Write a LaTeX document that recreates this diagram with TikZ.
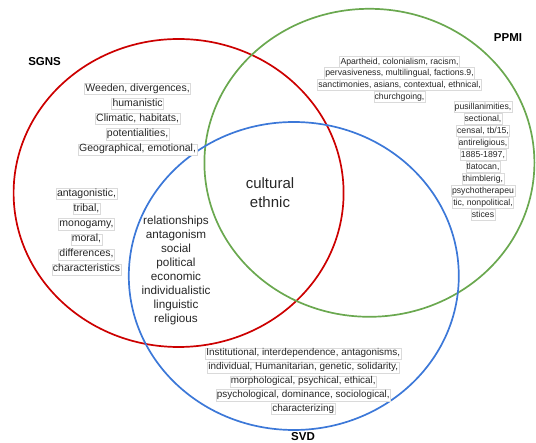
\documentclass[tikz,border=0pt]{standalone}
\usepackage{fontspec}
\setmainfont{Liberation Sans}
\definecolor{sgnsred}{HTML}{CC0000}
\definecolor{ppmigreen}{HTML}{6AA84F}
\definecolor{svdblue}{HTML}{3C78D8}
\definecolor{framegray}{HTML}{DADADA}
\definecolor{txt}{HTML}{262626}
\begin{document}
\begin{tikzpicture}[x=1pt,y=-1pt,
  setring/.style={line width=1.7pt},
  wordline/.style={draw=framegray, fill=white, line width=0.45pt, inner xsep=0.8pt, inner ysep=0.8pt,
    text=txt, text height=0.74em, text depth=0.21em, anchor=center},
  plainline/.style={inner sep=0pt, text=txt, anchor=center},
  tinyfont/.style={font=\fontsize{8.7}{10}\selectfont},
  midfont/.style={font=\fontsize{10.5}{12}\selectfont},
  svdfont/.style={font=\fontsize{9.9}{12}\selectfont},
  centfont/.style={font=\fontsize{11.7}{14}\selectfont},
  bigfont/.style={font=\fontsize{15}{18}\selectfont},
  setlabel/.style={font=\fontsize{11.5}{13}\selectfont\bfseries, text=black, inner sep=0pt}]
\useasboundingbox (0,0) rectangle (536,443);
% set outlines
\draw[setring, sgnsred] (178.6,193) ellipse [x radius=165pt, y radius=154pt];
\draw[setring, ppmigreen] (369.4,162.8) ellipse [x radius=165pt, y radius=154pt];
\draw[setring, svdblue] (293.8,276) ellipse [x radius=165pt, y radius=154pt];
% set labels
\node[setlabel] (sgns) at (44.6,62) {SGNS};
\node[setlabel] (ppmi) at (508,37.5) {PPMI};
\node[setlabel] (svd) at (303,437) {SVD};
% PPMI only, upper block
\foreach \t/\y [count=\i] in {{Apartheid, colonialism, racism,}/61.5,
  {pervasiveness, multilingual, factions.9,}/73.2,
  {sanctimonies, asians, contextual, ethnical,}/85,
  {churchgoing,}/96.7}
  \node[wordline, tinyfont] (ppmiA\i) at (399.5,\y) {\t};
% PPMI only, right column
\foreach \t/\y [count=\i] in {{pusillanimities,}/106.7, {sectional,}/118.8, {censal, tb/15,}/130.8,
  {antireligious,}/142.8, {1885-1897,}/154.8, {tlatocan,}/166.8, {thimblerig,}/178.8,
  {psychotherapeu}/190.8, {tic, nonpolitical,}/202.8, {stices}/214.8}
  \node[wordline, tinyfont] (ppmiB\i) at (483,\y) {\t};
% SGNS only, upper block
\foreach \t/\y [count=\i] in {{Weeden, divergences,}/89, {humanistic}/104, {Climatic, habitats,}/119,
  {potentialities,}/134.2, {Geographical, emotional,}/149.3}
  \node[wordline, midfont] (sgnsA\i) at (137.6,\y) {\t};
% SGNS only, left block
\foreach \t/\y [count=\i] in {{antagonistic,}/194, {tribal,}/209, {monogamy,}/224.2,
  {moral,}/239.3, {differences,}/254.3, {characteristics}/269.3}
  \node[wordline, midfont] (sgnsB\i) at (86.5,\y) {\t};
% SGNS and SVD
\foreach \t/\y [count=\i] in {{relationships}/221.7, {antagonism}/235.7, {social}/249.7,
  {political}/263.7, {economic}/277.7, {individualistic}/291.7, {linguistic}/305.7, {religious}/319.5}
  \node[plainline, centfont] (sgsv\i) at (176,\y) {\strut\t};
% all three
\node[plainline, bigfont] (cult) at (270,183.3) {cultural};
\node[plainline, bigfont] (ethn) at (270,201.7) {ethnic};
% SVD only
\foreach \t/\y [count=\i] in {{Institutional, interdependence, antagonisms,}/353.3,
  {individual, Humanitarian, genetic, solidarity,}/367.3,
  {morphological, psychical, ethical,}/381.3,
  {psychological, dominance, sociological,}/395.2,
  {characterizing}/409}
  \node[wordline, svdfont] (svdA\i) at (303.3,\y) {\t};
\end{tikzpicture}
\end{document}
